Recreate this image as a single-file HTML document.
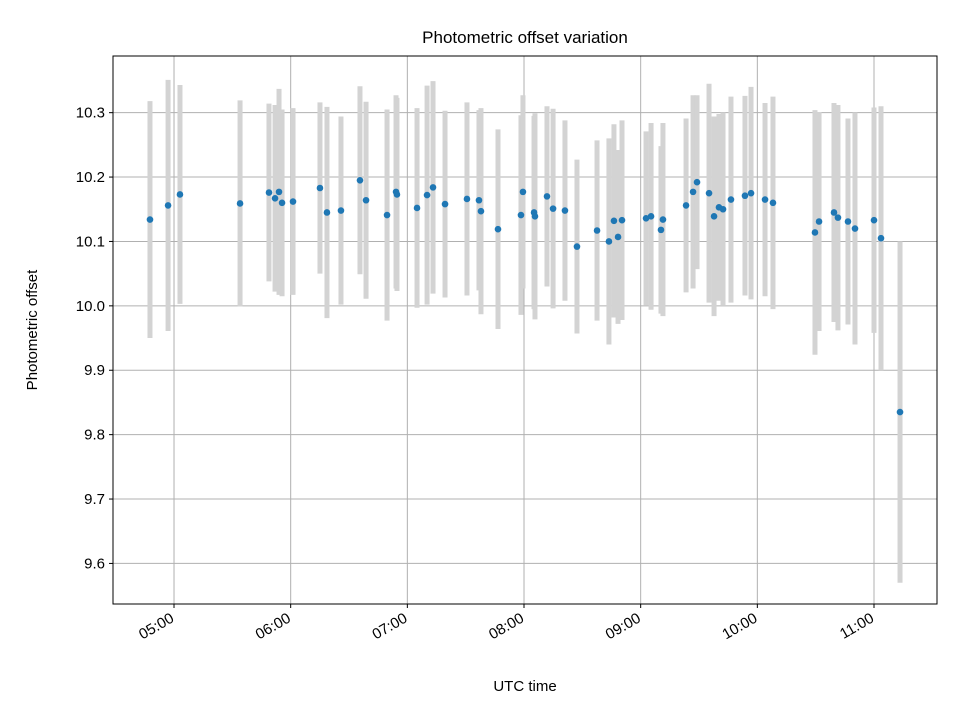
<!DOCTYPE html>
<html><head><meta charset="utf-8"><style>
body{margin:0;background:#fff}
svg text{font-family:"Liberation Sans","DejaVu Sans",sans-serif;fill:#000}
</style></head><body>
<svg id="chart" width="960" height="720" xmlns="http://www.w3.org/2000/svg">
<rect width="960" height="720" fill="#fff"/>
<text x="525" y="43" style="font-size:17px" text-anchor="middle">Photometric offset variation</text>
<g id="grid"></g><g id="errs"></g><g id="dots"></g><g id="axes"></g>
<text x="525" y="691" style="font-size:15px" text-anchor="middle">UTC time</text>
<text transform="translate(37,330) rotate(-90)" style="font-size:15px" text-anchor="middle">Photometric offset</text>
</svg>
<script>
const times=[4.794,4.949,5.051,5.566,5.814,5.866,5.900,5.926,6.020,6.251,6.311,6.431,6.594,6.646,6.826,6.903,6.911,7.083,7.169,7.220,7.323,7.511,7.614,7.631,7.777,7.974,7.991,8.086,8.094,8.197,8.249,8.351,8.454,8.626,8.728,8.771,8.806,8.840,9.046,9.089,9.174,9.191,9.389,9.449,9.483,9.586,9.629,9.671,9.706,9.774,9.894,9.946,10.066,10.134,10.494,10.529,10.657,10.691,10.777,10.837,11.000,11.060,11.223];
const offsets=[10.134,10.156,10.173,10.159,10.176,10.167,10.177,10.160,10.162,10.183,10.145,10.148,10.195,10.164,10.141,10.177,10.173,10.152,10.172,10.184,10.158,10.166,10.164,10.147,10.119,10.141,10.177,10.145,10.139,10.170,10.151,10.148,10.092,10.117,10.100,10.132,10.107,10.133,10.136,10.139,10.118,10.134,10.156,10.177,10.192,10.175,10.139,10.153,10.150,10.165,10.171,10.175,10.165,10.160,10.114,10.131,10.145,10.137,10.131,10.120,10.133,10.105,9.835];
const errors=[0.184,0.195,0.17,0.16,0.138,0.145,0.16,0.145,0.145,0.133,0.164,0.146,0.146,0.153,0.164,0.15,0.15,0.155,0.17,0.165,0.145,0.15,0.14,0.16,0.155,0.155,0.15,0.15,0.16,0.14,0.155,0.14,0.135,0.14,0.16,0.15,0.135,0.155,0.135,0.145,0.13,0.15,0.135,0.15,0.135,0.17,0.155,0.145,0.15,0.16,0.155,0.165,0.15,0.165,0.19,0.17,0.17,0.175,0.16,0.18,0.175,0.205,0.265];
const yTicks=[9.6,9.7,9.8,9.9,10.0,10.1,10.2,10.3];
const xTicks=[5,6,7,8,9,10,11];
const xTickLabels=["05:00","06:00","07:00","08:00","09:00","10:00","11:00"];

const L=113,R=937,T=56,B=604;
const x0=4.477,x1=11.540,y0=9.537,y1=10.388;
const sx=h=>L+(h-x0)/(x1-x0)*(R-L);
const sy=v=>B-(v-y0)/(y1-y0)*(B-T);
const NS="http://www.w3.org/2000/svg";
function mk(tag,parent,attrs){const e=document.createElementNS(NS,tag);for(const k in attrs)e.setAttribute(k,attrs[k]);parent.appendChild(e);return e;}
const grid=document.getElementById('grid'),errs=document.getElementById('errs'),dots=document.getElementById('dots'),axes=document.getElementById('axes');
yTicks.forEach(v=>{const y=sy(v);
const g=mk('line',grid,{x1:L,x2:R,y1:y,y2:y,stroke:'#b0b0b0','stroke-width':1});


mk('line',axes,{x1:L-4,x2:L,y1:y,y2:y,stroke:'#000'});
const t=mk('text',axes,{x:L-8,y:y+5,style:'font-size:15px','text-anchor':'end'});
t.textContent=v.toFixed(1);


});
xTicks.forEach((h,i)=>{const x=sx(h);
const g=mk('line',grid,{x1:x,x2:x,y1:T,y2:B,stroke:'#b0b0b0','stroke-width':1});


mk('line',axes,{x1:x,x2:x,y1:B,y2:B+4,stroke:'#000'});
const t=mk('text',axes,{transform:`translate(${x+1},${B+17}) rotate(-30)`,style:'font-size:15px','text-anchor':'end'});
t.textContent=xTickLabels[i];


});
times.forEach((h,i)=>{const x=sx(h);
const e=mk('line',errs,{x1:x,x2:x,y1:sy(offsets[i]+errors[i]),y2:sy(offsets[i]-errors[i]),stroke:'#d3d3d3','stroke-width':5});


const c=mk('circle',dots,{cx:x,cy:sy(offsets[i]),r:3.3,fill:'#1f77b4'});


});
const fr=mk('rect',axes,{x:L,y:T,width:R-L,height:B-T,fill:'none',stroke:'#000','stroke-width':1});


</script>
</body></html>
